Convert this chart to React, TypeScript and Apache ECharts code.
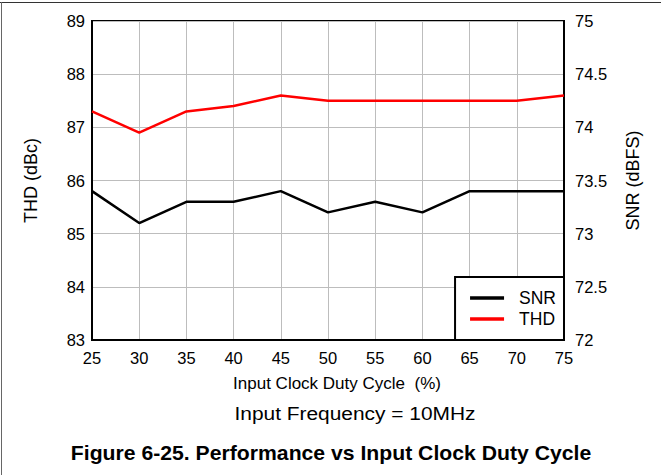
import React, { useEffect, useRef } from "react";
import * as echarts from "echarts";

const dutyCycle = [25, 30, 35, 40, 45, 50, 55, 60, 65, 70, 75];
const thdValues = [87.3, 86.9, 87.3, 87.4, 87.6, 87.5, 87.5, 87.5, 87.5, 87.5, 87.6];
const snrValues = [73.4, 73.1, 73.3, 73.3, 73.4, 73.2, 73.3, 73.2, 73.4, 73.4, 73.4];

const FONT = "'Liberation Sans', Arial, sans-serif";

export default function App() {
  const ref = useRef<HTMLDivElement>(null);
  useEffect(() => {
    if (!ref.current) return;
    const chart = echarts.init(ref.current, null, { renderer: "svg" });
    chart.setOption({
      animation: false,
      backgroundColor: "#fff",
      textStyle: { fontFamily: FONT, color: "#000" },
      grid: {
        left: 92,
        top: 21,
        width: 472,
        height: 319,
        show: true,
        borderColor: "#000",
        borderWidth: 2,
        containLabel: false,
      },
      legend: {
        right: 97,
        top: 277,
        orient: "vertical",
        backgroundColor: "#fff",
        borderColor: "#000",
        borderWidth: 2,
        borderRadius: 0,
        padding: [12, 8, 12, 15],
        itemGap: 3,
        itemWidth: 34,
        itemHeight: 3.5,
        icon: "rect",
        textStyle: { fontFamily: FONT, fontSize: 17.5, color: "#000", lineHeight: 18, padding: [0, 0, 0, 10] },
        data: ["SNR", "THD"],
      },
      xAxis: {
        type: "value",
        min: 25,
        max: 75,
        interval: 5,
        name: "Input Clock Duty Cycle  (%)",
        nameLocation: "middle",
        nameGap: 35,
        nameTextStyle: { fontFamily: FONT, fontSize: 17, color: "#000", padding: [0, 0, 0, 18] },
        axisLine: { lineStyle: { color: "#000", width: 2 } },
        axisTick: { show: false },
        axisLabel: { fontFamily: FONT, fontSize: 16.5, color: "#000", margin: 9 },
        splitLine: { show: true, lineStyle: { color: "#bdbdbd", width: 1 } },
      },
      yAxis: [
        {
          type: "value",
          min: 83,
          max: 89,
          interval: 1,
          name: "THD (dBc)",
          nameLocation: "middle",
          nameRotate: 90,
          nameGap: 52,
          nameTextStyle: { fontFamily: FONT, fontSize: 18, color: "#000" },
          axisLine: { show: true, lineStyle: { color: "#000", width: 2 } },
          axisTick: { show: false },
          axisLabel: { fontFamily: FONT, fontSize: 16.5, color: "#000", margin: 7 },
          splitLine: { show: true, lineStyle: { color: "#bdbdbd", width: 1 } },
        },
        {
          type: "value",
          min: 72,
          max: 75,
          interval: 0.5,
          position: "right",
          name: "SNR (dBFS)",
          nameLocation: "middle",
          nameRotate: 90,
          nameGap: 60,
          nameTextStyle: { fontFamily: FONT, fontSize: 18, color: "#000" },
          axisLine: { show: true, lineStyle: { color: "#000", width: 2 } },
          axisTick: { show: false },
          axisLabel: { fontFamily: FONT, fontSize: 16.5, color: "#000", margin: 11 },
          splitLine: { show: false },
        },
      ],
      series: [
        {
          name: "SNR",
          type: "line",
          yAxisIndex: 1,
          symbol: "none",
          data: dutyCycle.map((x, i) => [x, snrValues[i]]),
          lineStyle: { color: "#000", width: 2.5 },
          itemStyle: { color: "#000" },
        },
        {
          name: "THD",
          type: "line",
          yAxisIndex: 0,
          symbol: "none",
          data: dutyCycle.map((x, i) => [x, thdValues[i]]),
          lineStyle: { color: "#ff0000", width: 2.5 },
          itemStyle: { color: "#ff0000" },
        },
      ],
      graphic: [
        { type: "line", shape: { x1: 0, y1: 2.5, x2: 661, y2: 2.5 }, style: { stroke: "#333", lineWidth: 1 } },
        { type: "line", shape: { x1: 1.5, y1: 2, x2: 1.5, y2: 475 }, style: { stroke: "#666", lineWidth: 1 } },
        {
          type: "text",
          x: 355,
          y: 413,
          scaleX: 1.1,
          style: { text: "Input Frequency = 10MHz", font: `19px ${FONT}`, fill: "#000", textAlign: "center", textVerticalAlign: "middle" },
        },
        {
          type: "text",
          x: 331,
          y: 453,
          scaleX: 1.06,
          style: { text: "Figure 6-25. Performance vs Input Clock Duty Cycle", font: `bold 20px ${FONT}`, fill: "#000", textAlign: "center", textVerticalAlign: "middle" },
        },
      ],
    });
    return () => chart.dispose();
  }, []);
  return <div ref={ref} style={{ position: "absolute", left: 0, top: 0, width: 661, height: 475 }} />;
}
